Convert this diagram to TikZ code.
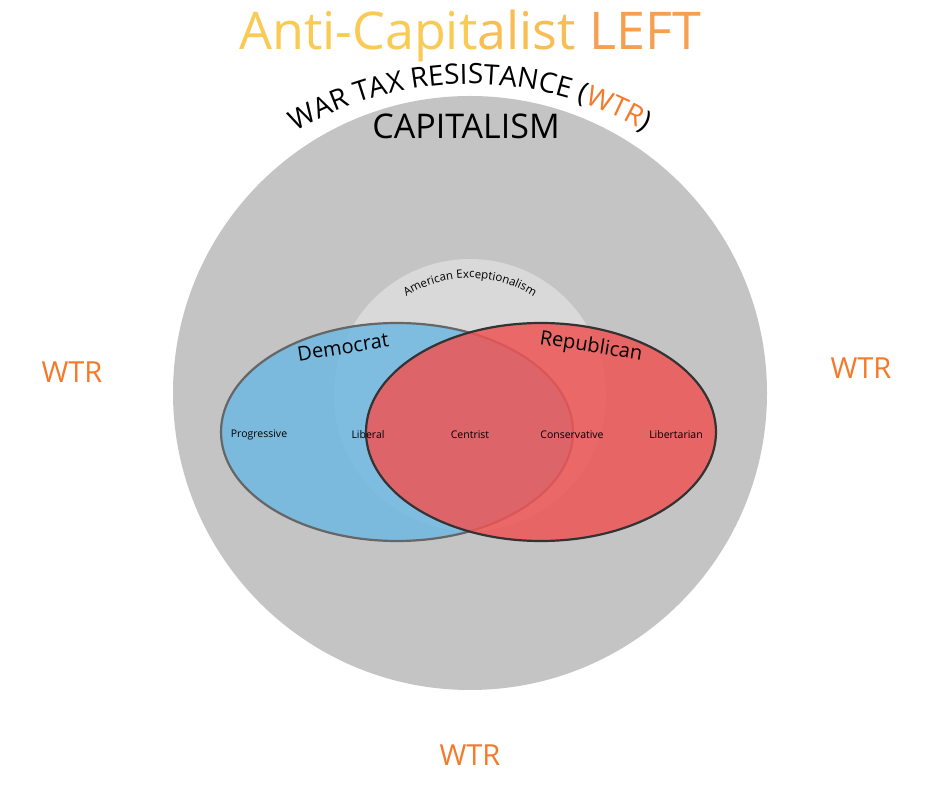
\documentclass[tikz,border=0pt]{standalone}
\usepackage{fontspec}
\setmainfont{Open Sans}
\usetikzlibrary{decorations.text}
\definecolor{bigg}{HTML}{C4C4C4}
\definecolor{lightg}{HTML}{D9D9D9}
\definecolor{demblue}{HTML}{6FB8E2}
\definecolor{repred}{HTML}{EE5555}
\definecolor{wtr}{HTML}{F47A2A}
\definecolor{ty}{HTML}{F9CB55}
\definecolor{to}{HTML}{F5A050}
\begin{document}
\begin{tikzpicture}[x=1pt,y=1pt,
  wtrlab/.style={text=wtr,font=\fontsize{29}{31}\selectfont},
  small/.style={font=\fontsize{10.5}{12}\selectfont}]
\useasboundingbox[fill=white] (0,0) rectangle (940,788);
\node[draw=none,fill=bigg,circle,minimum size=594] (big) at (470,395) {};
\node[fill=lightg,circle,minimum size=272] (amex) at (470,393) {};
\fill[demblue,fill opacity=0.85] (397,356) ellipse [x radius=176,y radius=109];
\draw[line width=2.2pt,draw=black!60] (397,356) ellipse [x radius=176,y radius=109];
\fill[repred,fill opacity=0.85] (541,356) ellipse [x radius=175,y radius=109];
\draw[line width=2.2pt,draw=black!80] (541,356) ellipse [x radius=175,y radius=109];
\coordinate (dem) at (397,356);
\coordinate (rep) at (541,356);
% title
\node (title) at (470,752) {\fontsize{52}{56}\selectfont\color{ty}Anti-Capit\color{ty!70!to}alist \color{to}LEFT};
% WTR arc
\path[decorate,decoration={text along path,text align=center,
  text={|\fontsize{28}{30}\selectfont|WAR TAX RESISTANCE (|\fontsize{28}{30}\selectfont\color{wtr}|WTR|\fontsize{28}{30}\selectfont\color{black}|)}}]
  (470,359) ++(146:345) arc (146:34:345);
\node (cap) at (466,662) {\fontsize{34}{36}\selectfont CAPITALISM};
\path[decorate,decoration={text along path,text align=center,
  text={|\fontsize{11.5}{12}\selectfont|American Exceptionalism}}]
  (470,393) ++(140:117) arc (140:40:117);
\node[rotate=9,font=\fontsize{20}{22}\selectfont] (demlab) at (343,441) {Democrat};
\node[rotate=-9,font=\fontsize{20}{22}\selectfont] (replab) at (591,441) {Republican};
\node[small] (prog) at (259,353) {Progressive};
\node[small] (lib) at (368,353) {Liberal};
\node[small] (cen) at (470,353) {Centrist};
\node[small] (con) at (572,353) {Conservative};
\node[small] (libt) at (676,353) {Libertarian};
\node[wtrlab] (wl) at (72,416) {WTR};
\node[wtrlab] (wr) at (861,420) {WTR};
\node[wtrlab] (wb) at (470,33) {WTR};
\end{tikzpicture}
\end{document}
